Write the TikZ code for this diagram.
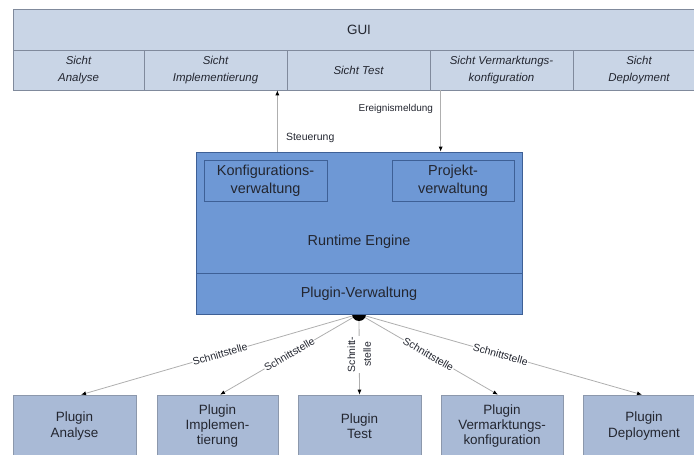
\documentclass[tikz,border=0pt]{standalone}
\usepackage{fontspec}
\setmainfont{Liberation Sans}
\usetikzlibrary{arrows.meta,calc}

\definecolor{guiblue}{RGB}{201,213,230}
\definecolor{guiframe}{RGB}{128,138,156}
\definecolor{engineblue}{RGB}{110,152,213}
\definecolor{engineframe}{RGB}{62,96,150}
\definecolor{pluginblue}{RGB}{169,186,214}
\definecolor{pluginframe}{RGB}{140,152,172}
\definecolor{linegray}{RGB}{175,175,175}
\definecolor{txt}{RGB}{35,38,48}

\begin{document}
\begin{tikzpicture}[x=1bp, y=-1bp,
  guibox/.style={draw=guiframe, fill=guiblue, line width=0.6bp, text=txt, align=center, inner sep=0pt},
  sicht/.style={minimum height=40bp, font=\fontsize{11.5}{16.5}\selectfont\itshape},
  enginebox/.style={draw=engineframe, fill=engineblue, line width=0.6bp, text=txt, align=center, inner sep=0pt,
    font=\fontsize{14.5}{18}\selectfont},
  pluginbox/.style={draw=pluginframe, fill=pluginblue, line width=0.6bp, text=txt, align=center, inner sep=0pt,
    minimum height=62bp, font=\fontsize{13.5}{15.5}\selectfont},
  link/.style={draw=linegray, line width=0.8bp, -{Latex[length=5bp,width=4bp,color=black]}},
  linklabel/.style={font=\fontsize{10.5}{11.5}\selectfont, text=txt, fill=white, inner sep=0.5bp, align=center}]

  \useasboundingbox (0,0) rectangle (694,455);
  \clip (0,0) rectangle (694,455);

  % GUI and its views
  \node[guibox, minimum width=692bp, minimum height=41bp, font=\fontsize{13.5}{16}\selectfont] (gui) at (359,29.5) {GUI};
  \node[guibox, sicht, minimum width=131bp] (sichtana) at (78.5,70) {Sicht\\Analyse};
  \node[guibox, sicht, minimum width=143bp] (sichtimpl) at (215.5,70) {Sicht\\Implementierung};
  \node[guibox, sicht, minimum width=143bp] (sichttest) at (358.5,70) {Sicht Test};
  \node[guibox, sicht, minimum width=143bp] (sichtverm) at (501.5,70) {Sicht Vermarktungs-\\konfiguration};
  \node[guibox, sicht, minimum width=132bp] (sichtdepl) at (639,70) {Sicht\\Deployment};

  % Plugins
  \node[pluginbox, minimum width=123bp] (pluginana) at (74.5,426) {Plugin\\Analyse};
  \node[pluginbox, minimum width=121bp] (pluginimpl) at (217.5,426) {Plugin\\Implemen-\\tierung};
  \node[pluginbox, minimum width=123bp] (plugintest) at (359.5,426) {Plugin\\Test};
  \node[pluginbox, minimum width=122bp] (pluginverm) at (502,426) {Plugin\\Vermarktungs-\\konfiguration};
  \node[pluginbox, minimum width=122bp] (plugindepl) at (644,426) {Plugin\\Deployment};

  % Interfaces from the hub
  \coordinate (hub) at (359,314);
  \draw[link] (hub) -- ($(pluginana.north)+(6.5,0)$) node[midway, sloped, linklabel] (ifana) {Schnittstelle};
  \draw[link] (hub) -- ($(pluginimpl.north)+(2.5,0)$) node[midway, sloped, linklabel] (ifimpl) {Schnittstelle};
  \draw[link] (hub) -- (plugintest.north)
    node[midway, rotate=90, linklabel, font=\fontsize{10.5}{16}\selectfont] (iftest) {Schnitt-\\stelle};
  \draw[link] (hub) -- ($(pluginverm.north)+(-4,0)$) node[midway, sloped, linklabel] (ifverm) {Schnittstelle};
  \draw[link] (hub) -- ($(plugindepl.north)+(-2,0)$) node[midway, sloped, linklabel] (ifdepl) {Schnittstelle};

  % Hub dot (upper half hidden by the box)
  \node[circle, fill=black, minimum size=14bp, inner sep=0pt] (hubdot) at (hub) {};

  % Runtime engine
  \node[enginebox, minimum width=326bp, minimum height=121bp] (engine) at (359,212.5) {};
  \node[enginebox, minimum width=326bp, minimum height=41bp] (pluginvw) at (359,293.5) {Plugin-Verwaltung};
  \node[enginebox, minimum width=123bp, minimum height=41bp] (konfig) at (265.5,180.5) {Konfigurations-\\verwaltung};
  \node[enginebox, minimum width=122bp, minimum height=41bp] (projekt) at (453,180.5) {Projekt-\\verwaltung};
  \node[text=txt, font=\fontsize{14.5}{17}\selectfont] (runtime) at (359,242) {Runtime Engine};

  % Control and events between engine and GUI
  \coordinate (steuer) at ($(engine.north west)!0.25!(engine.north east)$);
  \coordinate (ereignis) at ($(engine.north west)!0.75!(engine.north east)$);
  \draw[link] (steuer) -- (steuer |- sichtimpl.south)
    node[pos=0.22, anchor=west, xshift=5bp, font=\fontsize{10.5}{12}\selectfont, text=txt] (steuerlabel) {Steuerung};
  \draw[link] (ereignis |- sichtverm.south) -- (ereignis)
    node[pos=0.3, anchor=east, xshift=-4bp, font=\fontsize{10}{12}\selectfont, text=txt] (ereignislabel) {Ereignismeldung};
\end{tikzpicture}
\end{document}
